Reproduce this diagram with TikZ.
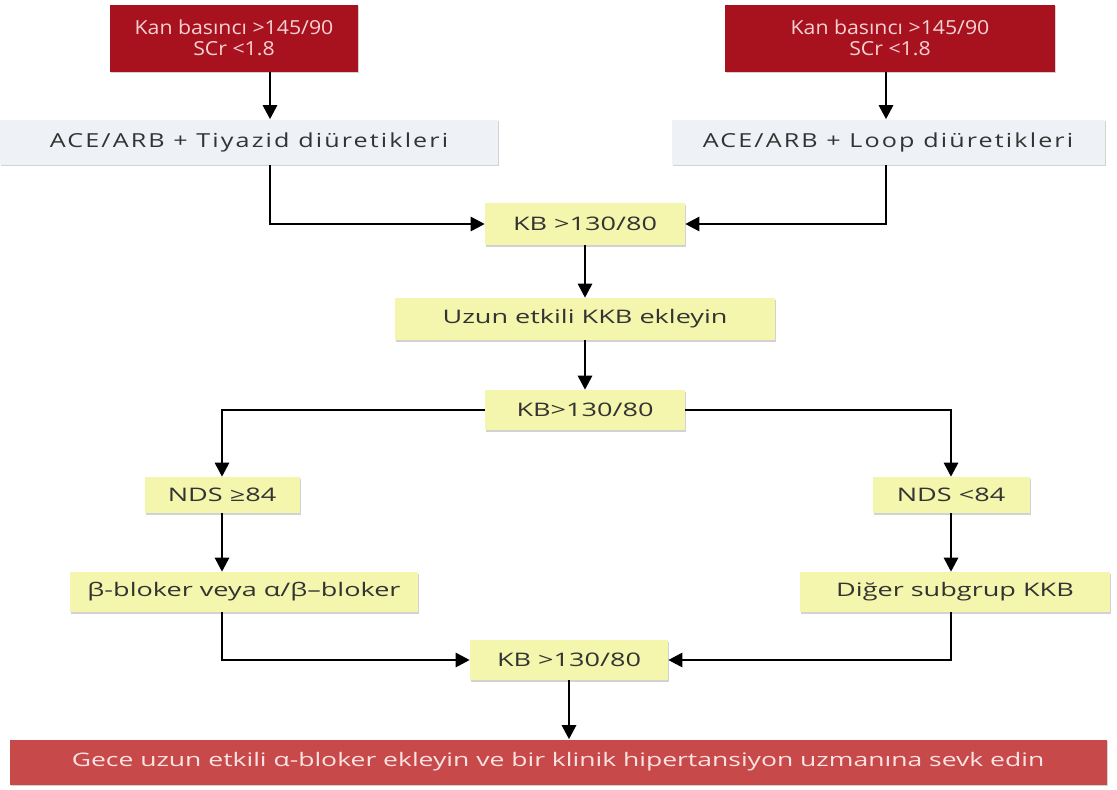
\documentclass[tikz,border=0pt]{standalone}
\usepackage{fontspec}
\setmainfont{Open Sans}
\newfontfamily\redfont[FakeStretch=1.1]{Open Sans}
\newfontfamily\acefont[FakeStretch=1.3,LetterSpace=11]{Open Sans}
\newfontfamily\yelfont[FakeStretch=1.45]{Open Sans}
\newfontfamily\endfont[FakeStretch=1.42]{Open Sans}
\usetikzlibrary{arrows.meta,shadows}
\definecolor{dred}{HTML}{A8121F}
\definecolor{redtxt}{HTML}{F6D2D4}
\definecolor{lblue}{HTML}{EEF2F6}
\definecolor{lyel}{HTML}{F3F6AC}
\definecolor{bred}{HTML}{C8494A}
\definecolor{btxt}{HTML}{FBE3E3}
\definecolor{dtxt}{HTML}{333333}
\begin{document}
\begin{tikzpicture}[x=0.75pt,y=-0.75pt,
  bx/.style 2 args={rectangle, inner sep=0pt, minimum width=#1*0.75pt, minimum height=#2*0.75pt,
    drop shadow={shadow xshift=1pt, shadow yshift=-1.2pt, opacity=0.35, fill=gray}},
  redbox/.style={fill=dred, text=redtxt, align=center, font=\redfont\fontsize{14.5}{15.5}\selectfont},
  bluebox/.style={fill=lblue, text=dtxt, font=\acefont\fontsize{14.5}{16}\selectfont},
  yelbox/.style={fill=lyel, text=dtxt, font=\yelfont\fontsize{14}{16}\selectfont},
  endbox/.style={fill=bred, text=btxt, font=\endfont\fontsize{14}{16}\selectfont},
  arr/.style={line width=2pt, -{Triangle[length=10.5pt,width=10.5pt]}},
]
\useasboundingbox[fill=white] (0,0) rectangle (1117,789);

\node[bx={248}{67}, redbox] (redL) at (234,38) {Kan basıncı >145/90\\SCr <1.8};
\node[bx={330}{67}, redbox] (redR) at (890,38) {Kan basıncı >145/90\\SCr <1.8};
\node[bx={498}{45}, bluebox] (aceL) at (249,142) {ACE/ARB + Tiyazid diüretikleri};
\node[bx={433}{45}, bluebox] (aceR) at (888,142) {ACE/ARB + Loop diüretikleri};
\node[bx={200}{42}, yelbox] (kb1) at (585,224) {KB >130/80};
\node[bx={380}{42}, yelbox] (uzun) at (585,319) {Uzun etkili KKB ekleyin};
\node[bx={200}{40}, yelbox] (kb2) at (585,410) {KB>130/80};
\node[bx={155}{36}, yelbox] (ndsL) at (222,495) {NDS ≥84};
\node[bx={157}{36}, yelbox] (ndsR) at (951,495) {NDS <84};
\node[bx={348}{40}, yelbox] (beta) at (244,592) {β-bloker veya α/β–bloker};
\node[bx={310}{40}, yelbox] (diger) at (955,592) {Diğer subgrup KKB};
\node[bx={198}{40}, yelbox] (kb3) at (569,660) {KB >130/80};
\node[bx={1097}{45}, endbox] (final) at (558,762) {Gece uzun etkili α-bloker ekleyin ve bir klinik hipertansiyon uzmanına sevk edin};

\coordinate (xl) at (270,0);
\coordinate (xr) at (886,0);
\coordinate (xl2) at (222,0);
\coordinate (xr2) at (951,0);

\draw[arr] (redL.south -| xl) -- (aceL.north -| xl);
\draw[arr] (redR.south -| xr) -- (aceR.north -| xr);
\draw[arr] (aceL.south -| xl) |- (kb1.west);
\draw[arr] (aceR.south -| xr) |- (kb1.east);
\draw[arr] (kb1) -- (uzun);
\draw[arr] (uzun) -- (kb2);
\draw[arr] (kb2.west) -| (ndsL.north);
\draw[arr] (kb2.east) -| (ndsR.north);
\draw[arr] (ndsL) -- (ndsL |- beta.north);
\draw[arr] (ndsR) -- (ndsR |- diger.north);
\draw[arr] (beta.south -| xl2) |- (kb3.west);
\draw[arr] (diger.south -| xr2) |- (kb3.east);
\draw[arr] (kb3.south) -- (kb3.south |- final.north);
\end{tikzpicture}
\end{document}
